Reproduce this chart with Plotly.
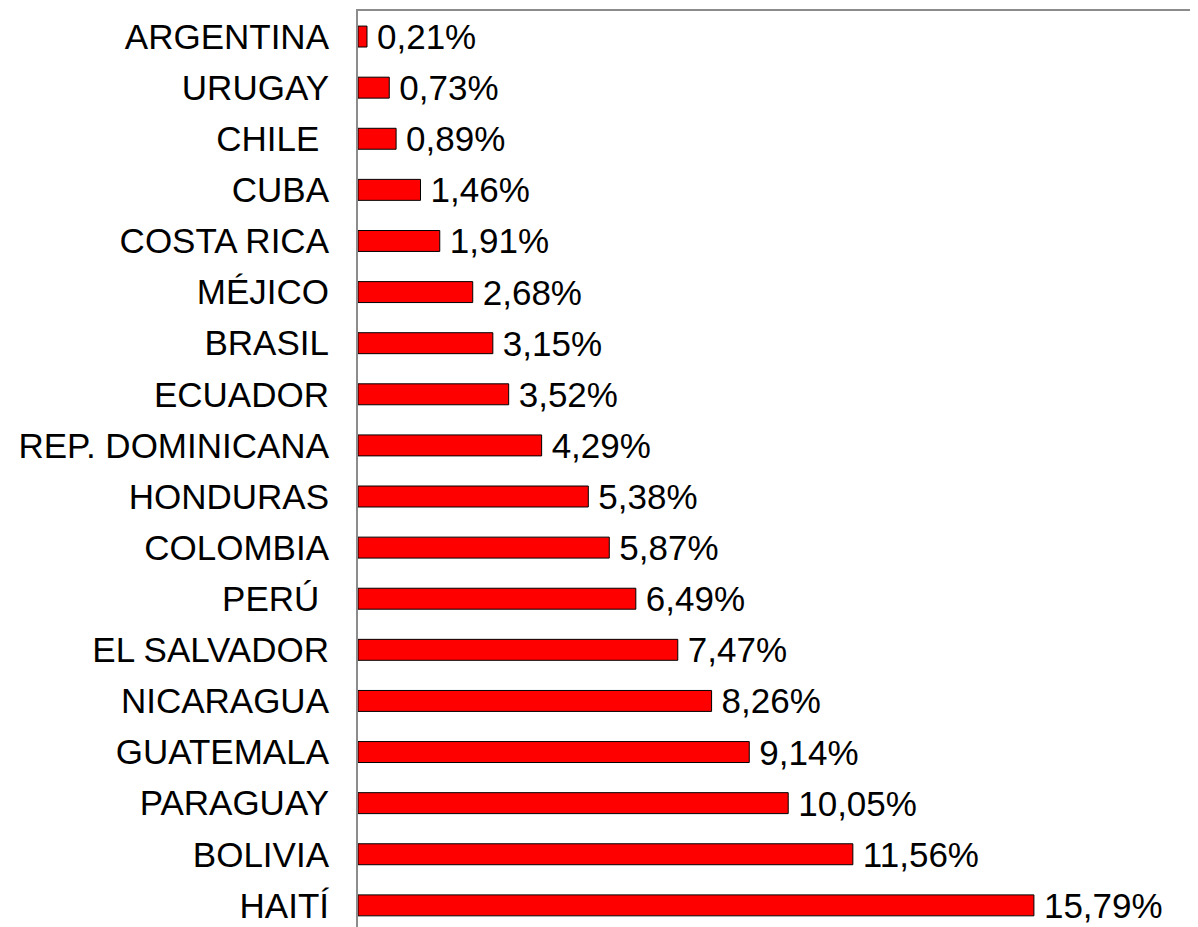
import plotly.graph_objects as go

countries = ["ARGENTINA", "URUGAY", "CHILE\u00a0", "CUBA", "COSTA RICA", "MÉJICO", "BRASIL",
             "ECUADOR", "REP. DOMINICANA", "HONDURAS", "COLOMBIA", "PERÚ\u00a0", "EL SALVADOR",
             "NICARAGUA", "GUATEMALA", "PARAGUAY", "BOLIVIA", "HAITÍ"]
values = [0.21, 0.73, 0.89, 1.46, 1.91, 2.68, 3.15, 3.52, 4.29, 5.38, 5.87, 6.49, 7.47,
          8.26, 9.14, 10.05, 11.56, 15.79]
labels = ["\u2009" + f"{v:.2f}".replace(".", ",") + "%" for v in values]

font = dict(family="Liberation Sans, Arial, sans-serif", size=35, color="#000000")

fig = go.Figure(go.Bar(
    x=values, y=list(range(len(countries))), orientation="h",
    marker=dict(color="#FF0000", line=dict(color="#000000", width=1)),
    width=0.41,
    text=labels, textposition="outside", cliponaxis=False, constraintext="none",
    textfont=font,
))

fig.update_layout(
    width=1198, height=927,
    margin=dict(l=350, r=0, t=3, b=0, autoexpand=False),
    paper_bgcolor="white", plot_bgcolor="white",
    showlegend=False, font=font,
    xaxis=dict(range=[0, 19.81], showgrid=False, zeroline=False, showticklabels=False,
               showline=True, linecolor="#8c8c8c", linewidth=2, side="top", ticks="",
               automargin=False),
    yaxis=dict(range=[17.58, -0.5], tickmode="array", tickvals=list(range(len(countries))),
               ticktext=countries, showgrid=False, zeroline=False,
               showline=True, linecolor="#8c8c8c", linewidth=2, ticks="",
               ticklabelstandoff=20, tickfont=font, automargin=False),
)

fig.write_html("out.html")
